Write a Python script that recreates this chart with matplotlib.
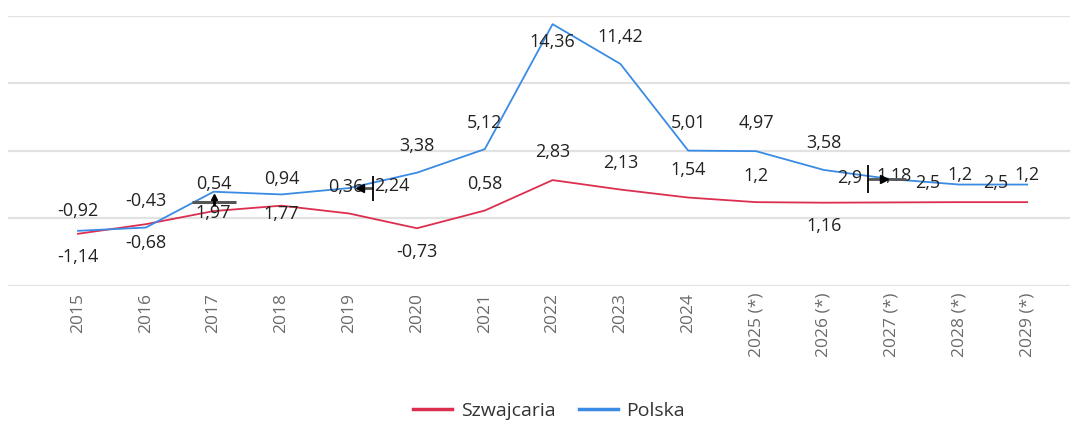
import matplotlib
matplotlib.use("Agg")
import matplotlib.pyplot as plt
from matplotlib.transforms import offset_copy
from matplotlib.lines import Line2D

plt.rcParams['font.family'] = ['Open Sans', 'DejaVu Sans']

# data
years = ['2015', '2016', '2017', '2018', '2019', '2020', '2021', '2022', '2023', '2024',
         '2025 (*)', '2026 (*)', '2027 (*)', '2028 (*)', '2029 (*)']
szwajcaria = [-1.14, -0.43, 0.54, 0.94, 0.36, -0.73, 0.58, 2.83, 2.13, 1.54, 1.2, 1.16, 1.18, 1.2, 1.2]
polska = [-0.92, -0.68, 1.97, 1.77, 2.24, 3.38, 5.12, 14.36, 11.42, 5.01, 4.97, 3.58, 2.9, 2.5, 2.5]

# label offsets in pixels (dx right, dy down) - copied from the messy layout of the original
pl_off = [(0, -20), (0, 15), (0, 21), (0, 20), (43, -2), (0, -27), (0, -26), (0, 18),
          (0, -27), (0, -28), (0, -28), (0, -27), (-42, -1), (-32, -2), (-32, -2)]
ch_off = [(0, 23), (0, -23), (0, -27), (0, -27), (-3, -27), (0, 24), (0, -27), (0, -28),
          (0, -27), (0, -28), (0, -26), (0, 23), (2, -26), (1, -27), (0, -27)]

RED = '#dc2f4f'
BLUE = '#3a8be3'
W, H = 1081, 422

fig = plt.figure(figsize=(W / 100, H / 100), dpi=100)
ax = fig.add_axes([8 / W, (H - 286) / H, (1070 - 8) / W, (286 - 15.5) / H])

x = list(range(len(years)))
ax.plot(x, szwajcaria, color=RED, lw=1.3, zorder=3)
ax.plot(x, polska, color=BLUE, lw=1.3, zorder=3)

ax.set_ylim(-5, 15)
ax.set_xlim(-70 / 67.8, (1070 - 78) / 67.8)
ax.set_yticks([-5, 0, 5, 10, 15])
ax.yaxis.grid(True, color='#e2e2e2', lw=1.6)
ax.set_axisbelow(True)
ax.tick_params(axis='y', left=False, labelleft=False)
for s in ax.spines.values():
    s.set_visible(False)

ax.set_xticks(x)
ax.set_xticklabels(years, rotation=90, color='#6b6b6b', fontsize=12.5)
ax.tick_params(axis='x', length=0, pad=5)


def fmt(v):
    return ('%g' % v).replace('.', ',')


for i in x:
    for vals, offs in ((polska, pl_off), (szwajcaria, ch_off)):
        dx, dy = offs[i]
        ax.annotate(fmt(vals[i]), (i, vals[i]), xytext=(dx, -dy), textcoords='offset pixels',
                    ha='center', va='center', fontsize=13, color='#222222', zorder=5)


# small cursor / leader artefacts visible on the original
def mark(i, val, dx, dy, **kw):
    tr = offset_copy(ax.transData, fig=fig, x=dx, y=-dy, units='dots')
    ax.plot([i], [val], transform=tr, ls='none', zorder=6, clip_on=False, **kw)


mark(2, polska[2], 0, 10, marker='_', ms=31, mew=2.2, color='#555555')
mark(2, polska[2], 0, 10, marker='|', ms=6, mew=2, color='black')
mark(2, polska[2], 0, 5, marker='^', ms=5, color='black')
mark(4, polska[4], 16, 0, marker='_', ms=12, mew=2, color='#555555')
mark(4, polska[4], 11, 0, marker='<', ms=6, color='black')
mark(4, polska[4], 24, 0, marker='|', ms=18, mew=1.3, color='black')
mark(12, polska[12], -5, 0, marker='_', ms=27, mew=2, color='#555555')
mark(12, polska[12], -24, 0, marker='|', ms=20, mew=1.3, color='black')
mark(12, polska[12], -8, 0, marker='>', ms=6, color='black')

handles = [Line2D([], [], color=RED, lw=2.5), Line2D([], [], color=BLUE, lw=2.5)]
fig.legend(handles, ['Szwajcaria', 'Polska'], loc='center', bbox_to_anchor=(0.508, 0.026),
           ncol=2, frameon=False, fontsize=14, handlelength=2.0, handletextpad=0.45,
           columnspacing=1.2, labelcolor='#333333')

fig.savefig('out.png', dpi=100)
